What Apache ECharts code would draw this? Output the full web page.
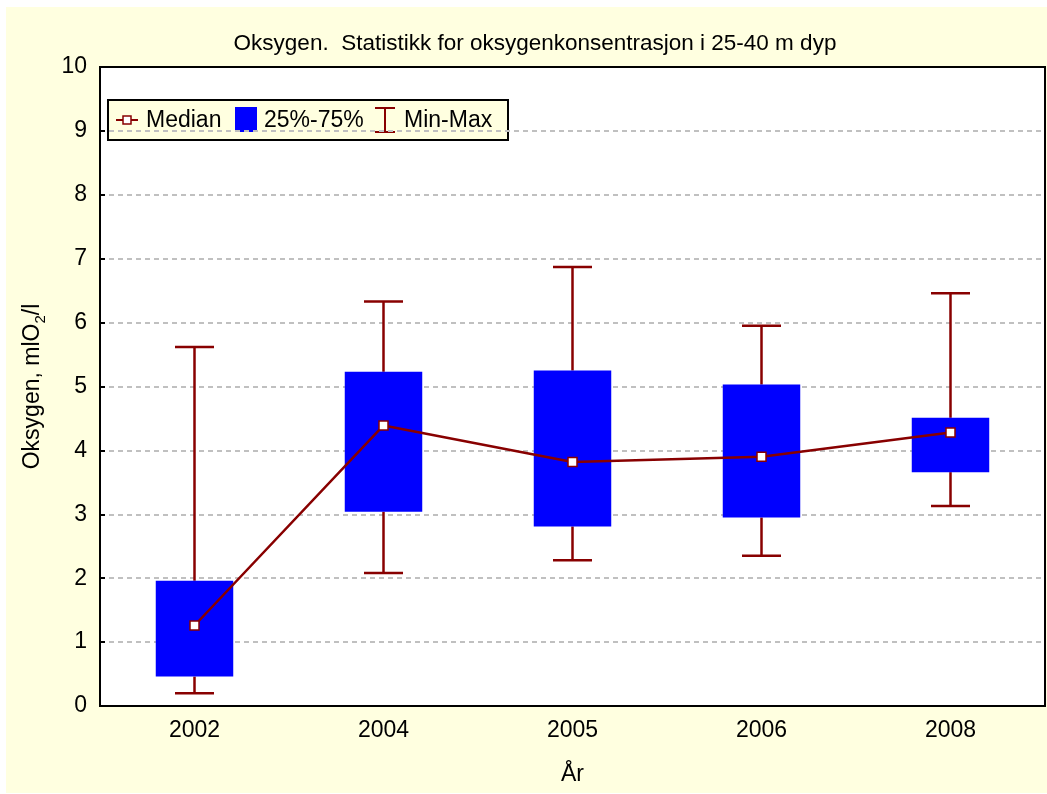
<!DOCTYPE html>
<html>
<head>
<meta charset="utf-8">
<script src="https://cdn.jsdelivr.net/npm/echarts@6/dist/echarts.min.js"></script>
<style>
  html, body { margin: 0; padding: 0; background: #ffffff; }
  #chart { position: absolute; left: 6px; top: 7px; width: 1041px; height: 786px; background: #ffffe0; }
</style>
</head>
<body>
<div id="chart"></div>
<script>
// data
const years = ['2002', '2004', '2005', '2006', '2008'];
const minVals = [0.20, 2.08, 2.28, 2.35, 3.13];
const q1Vals = [0.46, 3.04, 2.81, 2.95, 3.66];
const medianVals = [1.26, 4.39, 3.82, 3.90, 4.28];
const q3Vals = [1.96, 5.23, 5.25, 5.03, 4.51];
const maxVals = [5.62, 6.33, 6.87, 5.95, 6.46];
const yTicks = [0, 1, 2, 3, 4, 5, 6, 7, 8, 9, 10];

const DARK_RED = '#880000';
const BLUE = '#0000ff';
const FONT = '"Liberation Sans", Arial, sans-serif';

const chart = echarts.init(document.getElementById('chart'));

// whiskers (min-max) behind the boxes
function renderWhisker(params, api) {
  const i = api.value(0);
  const lo = api.coord([i, api.value(1)]);
  const q1 = api.coord([i, api.value(2)]);
  const q3 = api.coord([i, api.value(3)]);
  const hi = api.coord([i, api.value(4)]);
  const cap = 19.5;
  const style = { stroke: DARK_RED, lineWidth: 2.5 };
  return {
    type: 'group',
    children: [
      { type: 'line', shape: { x1: hi[0], y1: hi[1], x2: q3[0], y2: q3[1] }, style },
      { type: 'line', shape: { x1: q1[0], y1: q1[1], x2: lo[0], y2: lo[1] }, style },
      { type: 'line', shape: { x1: hi[0] - cap, y1: hi[1], x2: hi[0] + cap, y2: hi[1] }, style },
      { type: 'line', shape: { x1: lo[0] - cap, y1: lo[1], x2: lo[0] + cap, y2: lo[1] }, style }
    ]
  };
}

function renderBox(params, api) {
  const i = api.value(0);
  const q1 = api.coord([i, api.value(1)]);
  const q3 = api.coord([i, api.value(2)]);
  const w = api.size([1, 0])[0] * 0.41;
  return {
    type: 'rect',
    shape: { x: q1[0] - w / 2, y: q3[1], width: w, height: q1[1] - q3[1] },
    style: { fill: BLUE }
  };
}

const whiskerData = years.map((y, i) => [i, minVals[i], q1Vals[i], q3Vals[i], maxVals[i]]);
const boxData = years.map((y, i) => [i, q1Vals[i], q3Vals[i]]);

// legend drawn by hand (page coords minus div offset 6,7)
const lx = 101, ly = 92;
const legendFont = '23px ' + FONT;
const legend = {
  type: 'group',
  left: lx,
  top: ly,
  z: 100,
  children: [
    { type: 'rect', shape: { x: 0, y: 0, width: 400, height: 40 },
      style: { fill: '#ffffe0', stroke: '#000', lineWidth: 2 } },
    // median icon
    { type: 'line', shape: { x1: 8, y1: 20, x2: 30, y2: 20 }, style: { stroke: DARK_RED, lineWidth: 2 } },
    { type: 'rect', shape: { x: 15, y: 16, width: 8, height: 8 },
      style: { fill: '#fff', stroke: DARK_RED, lineWidth: 1.5 } },
    { type: 'text', x: 38, y: 21, style: { text: 'Median', font: legendFont, fill: '#000', verticalAlign: 'middle' } },
    // box icon
    { type: 'rect', shape: { x: 127, y: 7, width: 22, height: 25 }, style: { fill: BLUE } },
    { type: 'text', x: 156, y: 21, style: { text: '25%-75%', font: legendFont, fill: '#000', verticalAlign: 'middle' } },
    // min-max icon
    { type: 'line', shape: { x1: 277, y1: 8, x2: 277, y2: 32 }, style: { stroke: DARK_RED, lineWidth: 2 } },
    { type: 'line', shape: { x1: 267, y1: 8, x2: 287, y2: 8 }, style: { stroke: DARK_RED, lineWidth: 2 } },
    { type: 'line', shape: { x1: 267, y1: 32, x2: 287, y2: 32 }, style: { stroke: DARK_RED, lineWidth: 2 } },
    { type: 'text', x: 296, y: 21, style: { text: 'Min-Max', font: legendFont, fill: '#000', verticalAlign: 'middle' } }
  ]
};

const option = {
  animation: false,
  backgroundColor: '#ffffe0',
  textStyle: { fontFamily: FONT },
  title: {
    text: 'Oksygen.  Statistikk for oksygenkonsentrasjon i 25-40 m dyp',
    left: 524,
    top: 20,
    textAlign: 'center',
    textStyle: { fontFamily: FONT, fontSize: 22.5, fontWeight: 'normal', color: '#000' }
  },
  grid: {
    left: 94,
    top: 60,
    right: 2,
    bottom: 87,
    show: true,
    backgroundColor: '#ffffff',
    borderColor: '#000',
    borderWidth: 2
  },
  xAxis: {
    type: 'category',
    data: years,
    boundaryGap: true,
    name: 'År',
    nameLocation: 'middle',
    nameGap: 57,
    nameTextStyle: { fontSize: 23, color: '#000', fontFamily: FONT },
    axisLine: { lineStyle: { color: '#000', width: 2 } },
    axisTick: { inside: true, alignWithLabel: true, length: 5, lineStyle: { color: '#000', width: 2 } },
    axisLabel: { fontSize: 23, color: '#000', margin: 13, fontFamily: FONT },
    splitLine: { show: false }
  },
  yAxis: {
    type: 'value',
    min: yTicks[0],
    max: yTicks[yTicks.length - 1],
    interval: 1,
    name: '{t|Oksygen, mlO}{s|2}{t|/l}',
    nameLocation: 'middle',
    nameGap: 52,
    nameRotate: 90,
    nameTextStyle: {
      color: '#000',
      rich: {
        t: { fontSize: 23, fontFamily: FONT, color: '#000', lineHeight: 30 },
        s: { fontSize: 15, fontFamily: FONT, color: '#000', lineHeight: 12, verticalAlign: 'bottom' }
      }
    },
    axisLine: { show: true, lineStyle: { color: '#000', width: 2 } },
    axisTick: { show: true, inside: true, length: 5, lineStyle: { color: '#000', width: 2 } },
    axisLabel: { fontSize: 23, color: '#000', margin: 13, fontFamily: FONT },
    splitLine: {
      show: true,
      showMinLine: false,
      showMaxLine: false,
      lineStyle: { color: '#c0c0c0', width: 2, type: [5, 4] }
    }
  },
  graphic: [legend],
  series: [
    {
      name: 'Min-Max',
      type: 'custom',
      renderItem: renderWhisker,
      data: whiskerData,
      encode: { x: 0, y: [1, 2, 3, 4] },
      z: 2
    },
    {
      name: '25%-75%',
      type: 'custom',
      renderItem: renderBox,
      data: boxData,
      encode: { x: 0, y: [1, 2] },
      z: 3
    },
    {
      name: 'Median',
      type: 'line',
      data: medianVals,
      symbol: 'rect',
      symbolSize: 9,
      lineStyle: { color: DARK_RED, width: 2.5 },
      itemStyle: { color: '#ffffff', borderColor: DARK_RED, borderWidth: 1.5 },
      z: 4
    }
  ]
};

chart.setOption(option);
</script>
</body>
</html>
